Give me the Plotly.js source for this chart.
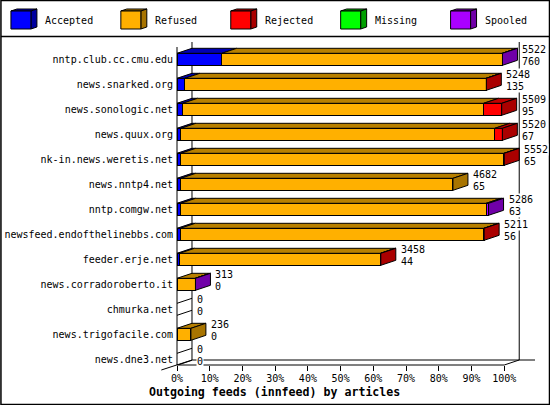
<!DOCTYPE html>
<html>
<head>
<meta charset="utf-8">
<script src="https://cdn.plot.ly/plotly-3.0.1.min.js"></script>
<style>html,body{margin:0;padding:0;background:#fff}</style>
</head>
<body>
<div id="chart" style="width:550px;height:405px"></div>
<script>
const feeds = ["nntp.club.cc.cmu.edu","news.snarked.org","news.sonologic.net","news.quux.org","nk-in.news.weretis.net","news.nntp4.net","nntp.comgw.net","newsfeed.endofthelinebbs.com","feeder.erje.net","news.corradoroberto.it","chmurka.net","news.trigofacile.com","news.dne3.net"];
const accepted = [760,135,95,67,65,65,63,56,44,0,0,0,0];
const refused  = [4757,5108,5107,5325,5482,4617,5183,5150,3409,308,0,236,0];
const rejected = [0,5,307,128,5,0,0,5,5,0,0,0,0];
const missing  = [0,0,0,0,0,0,0,0,0,0,0,0,0];
const spooled  = [5,0,0,0,0,0,40,0,0,5,0,0,0];
const totals   = [5522,5248,5509,5520,5552,4682,5286,5211,3458,313,0,236,0];
const shownAccepted = [760,135,95,67,65,65,63,56,44,0,0,0,0];
const seriesNames = ["Accepted","Refused","Rejected","Missing","Spooled"];
const seriesValues = [accepted,refused,rejected,missing,spooled];
const faceColors = ["#0000ff","#ffb000","#ff0000","#00ff00","#aa00ff"];
const topColors  = ["#0000b4","#b88000","#c00000","#00b400","#7c00b8"];
const sideColors = ["#0000a0","#a87400","#aa0000","#00a000","#7000a8"];
const tickValues = [0,10,20,30,40,50,60,70,80,90,100];
const maxArticles = 5552;

/* pixel geometry of the frame */
const W=550,H=405,L=176.7,T=37,B=40,R=1;
const pxPerPct=3.275, pxPerRow=25, firstRowPx=59.3, barPx=12, depthX=15, depthY=5;
const dx=depthX/pxPerPct, dy=depthY/pxPerRow, half=barPx/pxPerRow/2;
const plotW=W-L-R;
const px=v=>(v-L)/plotW, py=v=>1-(v-T)/(H-T-B);
const pct=v=>v/maxArticles*100;
const yIdx=feeds.map((_,i)=>i);

const traces=[];
seriesNames.forEach((n,s)=>{
  traces.push({type:'bar',orientation:'h',name:n,y:yIdx,x:seriesValues[s].map(v=>v?pct(v):null),
    width:half*2,marker:{color:faceColors[s],line:{color:'#000',width:1}},hoverinfo:'skip',showlegend:false});
});
/* 3D depth faces built from the same values */
seriesNames.forEach((n,s)=>{
  const xs=[],ys=[];
  feeds.forEach((_,i)=>{
    const v=seriesValues[s][i]; if(!v) return;
    let a=0; for(let k=0;k<s;k++) a+=seriesValues[k][i];
    const x0=pct(a),x1=pct(a+v),yt=i-half;
    xs.push(x0,x1,x1+dx,x0+dx,x0,null); ys.push(yt,yt,yt-dy,yt-dy,yt,null);
  });
  if(xs.length) traces.push({type:'scatter',mode:'lines',x:xs,y:ys,fill:'toself',fillcolor:topColors[s],line:{color:'#000',width:1},hoverinfo:'skip',showlegend:false});
  const sx=[],sy=[];
  feeds.forEach((_,i)=>{
    if(!seriesValues[s][i]) return;
    for(let k=s+1;k<5;k++) if(seriesValues[k][i]) return;
    const e=pct(totals[i]),yt=i-half,yb=i+half;
    sx.push(e,e+dx,e+dx,e,e,null); sy.push(yt,yt-dy,yb-dy,yb,yt,null);
  });
  if(sx.length) traces.push({type:'scatter',mode:'lines',x:sx,y:sy,fill:'toself',fillcolor:sideColors[s],line:{color:'#000',width:1},hoverinfo:'skip',showlegend:false});
});
/* empty rows only show the two edge strokes */
const zx=[],zy=[];
feeds.forEach((_,i)=>{ if(totals[i]===0){ [i-half,i+half].forEach(y=>{zx.push(0,dx,null);zy.push(y,y-dy,null);}); }});
traces.push({type:'scatter',mode:'lines',x:zx,y:zy,line:{color:'#000',width:1},hoverinfo:'skip',showlegend:false});

const mono='"DejaVu Sans Mono", monospace';
const shapes=[],annotations=[];
const line=(x0,y0,x1,y1)=>({type:'line',xref:'paper',yref:'paper',x0:px(x0),y0:py(y0),x1:px(x1),y1:py(y1),line:{color:'#000',width:1},layer:'below'});
const xEnd=L+100*pxPerPct;
shapes.push(line(L,47,L,365),line(L+depthX,42,L+depthX,360),line(xEnd+depthX,42,xEnd+depthX,360));
shapes.push(line(L+depthX,360,535,360),line(L,365,xEnd,365),line(xEnd,365,xEnd+depthX,360),line(161,370,L+depthX,360));
/* frame and legend rule */
shapes.push({type:'rect',xref:'paper',yref:'paper',x0:px(0.5),y0:py(0.5),x1:px(549.5),y1:py(404.5),line:{color:'#000',width:1.5},fillcolor:'rgba(0,0,0,0)'});
shapes.push({type:'line',xref:'paper',yref:'paper',x0:px(0.5),y0:py(36.5),x1:px(549.5),y1:py(36.5),line:{color:'#000',width:1.5}});
/* legend */
const legX=[10.5,120.5,230.5,340.5,450.5], legText=[44,154,264,374,484];
seriesNames.forEach((n,s)=>{
  const a=legX[s],b=a+20,t=11,u=29,ox=6,oy=2;
  const poly=(pts,c)=>shapes.push({type:'path',xref:'paper',yref:'paper',
    path:'M'+pts.map(p=>px(p[0])+','+py(p[1])).join('L')+'Z',fillcolor:c,line:{color:'#000',width:1}});
  poly([[a,t],[a+ox,t-oy],[b+ox,t-oy],[b,t]],topColors[s]);
  poly([[b,t],[b+ox,t-oy],[b+ox,u-oy],[b,u]],sideColors[s]);
  poly([[a,t],[b,t],[b,u],[a,u]],faceColors[s]);
  annotations.push({xref:'paper',yref:'paper',x:px(legText[s]),y:py(20.5),text:n,showarrow:false,xanchor:'left',yanchor:'middle',font:{family:mono,size:10,color:'#000'},borderpad:0});
});
/* value labels */
feeds.forEach((_,i)=>{
  const base={xref:'x',yref:'y',x:pct(totals[i])+dx,y:i-dy,showarrow:false,xanchor:'left',yanchor:'middle',xshift:4,
    font:{family:mono,size:10,color:'#000'},bgcolor:'#fff',borderpad:0};
  annotations.push(Object.assign({},base,{text:String(totals[i]),yshift:4.5}));
  annotations.push(Object.assign({},base,{text:String(shownAccepted[i]),yshift:-7}));
});
annotations.push({xref:'paper',yref:'paper',x:px(274.5),y:py(392),text:'<b>Outgoing feeds (innfeed) by articles</b>',showarrow:false,xanchor:'center',yanchor:'middle',font:{family:mono,size:11.6,color:'#000'}});

Plotly.newPlot('chart',traces,{
  width:W,height:H,autosize:false,margin:{l:L,r:R,t:T,b:B,pad:0},
  paper_bgcolor:'#fff',plot_bgcolor:'rgba(0,0,0,0)',barmode:'stack',showlegend:false,
  xaxis:{range:[0,plotW/pxPerPct],tickmode:'array',tickvals:tickValues,ticktext:tickValues.map(v=>v+'%'),ticks:'outside',ticklen:5,tickwidth:1,tickcolor:'#000',
    showgrid:false,zeroline:false,showline:false,tickfont:{family:mono,size:10,color:'#000'},tickangle:0,ticklabelstandoff:-1},
  yaxis:{type:'linear',range:[(H-B-firstRowPx)/pxPerRow,(T-firstRowPx)/pxPerRow],tickmode:'array',tickvals:yIdx,ticktext:feeds,ticks:'',
    showgrid:false,zeroline:false,showline:false,tickfont:{family:mono,size:10,color:'#000'},ticklabelstandoff:3},
  shapes,annotations
},{displayModeBar:false,staticPlot:true});
</script>
</body>
</html>
